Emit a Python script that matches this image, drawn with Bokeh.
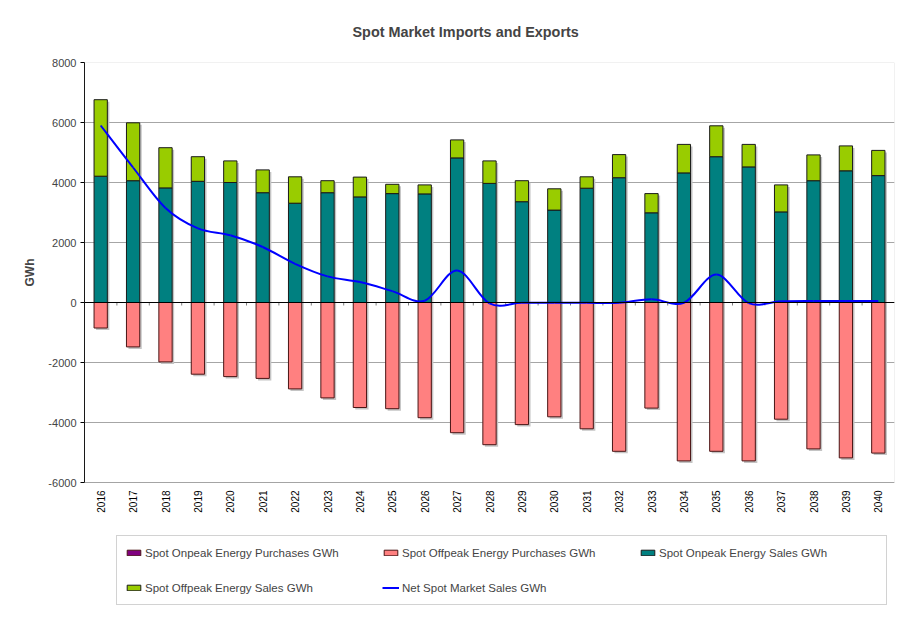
import math
from bokeh.plotting import figure
from bokeh.models import (ColumnDataSource, FixedTicker, Span, Legend, LegendItem, Range1d,
                          BoxAnnotation, Title)
from bokeh.embed import file_html
from bokeh.resources import INLINE
from bokeh.core.properties import value

years = [2016, 2017, 2018, 2019, 2020, 2021, 2022, 2023, 2024, 2025, 2026, 2027, 2028,
         2029, 2030, 2031, 2032, 2033, 2034, 2035, 2036, 2037, 2038, 2039, 2040]
year_labels = [str(y) for y in years]
onpeak_purchases = [0] * 25
offpeak_purchases = [-850, -1480, -1980, -2390, -2470, -2530, -2880, -3180, -3500, -3540, -3840, -4340, -4740,
                     -4070, -3810, -4210, -4960, -3520, -5280, -4960, -5280, -3890, -4880, -5180, -5020]
onpeak_sales = [4210, 4060, 3820, 4040, 4000, 3660, 3310, 3660, 3520, 3630, 3620, 4820, 3970,
                3360, 3080, 3810, 4160, 2990, 4320, 4860, 4520, 3020, 4060, 4390, 4230]
offpeak_sales = [2550, 1930, 1340, 820, 720, 760, 880, 400, 660, 310, 300, 600, 750,
                 700, 710, 380, 770, 640, 950, 1030, 750, 900, 860, 830, 840]
net_sales = [5900, 4500, 3150, 2470, 2240, 1850, 1290, 870, 680, 380, 60, 1070, -30,
             -10, -10, -10, -10, 110, -10, 930, -20, 40, 50, 50, 50]
y_ticks = [-6000, -4000, -2000, 0, 2000, 4000, 6000, 8000]
y_tick_labels = ["-6000", "-4000", "-2000", "0", "2000", "4000", "6000", "8000"]
Y_MIN, Y_MAX = -6000, 8000

FONT = "Liberation Sans"
C_ON_PUR = "#800080"
C_OFF_PUR = "#FF8080"
C_ON_SAL = "#008080"
C_OFF_SAL = "#99CC00"
C_NET = "#0000FF"
C_SHADOW = "#C4C4C4"

# layout (pixels)
FIG_W, FIG_H = 918, 620
FRAME_L, FRAME_R, FRAME_T = 84, 894, 62
PLOT_BOTTOM = 482          # bottom of the value area
FRAME_B = 612              # frame extended to hold the legend
px_per_unit = (PLOT_BOTTOM - FRAME_T) / (Y_MAX - Y_MIN)
y_lo = Y_MAX - (FRAME_B - FRAME_T) / px_per_unit
BAR_W = 0.41
shadow_dx = 2 / ((FRAME_R - FRAME_L) / len(years))   # 2 px in x units
shadow_dy = 2 / px_per_unit                           # 2 px in y units

src = ColumnDataSource(dict(x=years, onpeak_purchases=onpeak_purchases, offpeak_purchases=offpeak_purchases,
                            onpeak_sales=onpeak_sales, offpeak_sales=offpeak_sales))

p = figure(width=FIG_W, height=FIG_H, output_backend="svg", toolbar_location=None,
           x_range=Range1d(years[0] - 0.5, years[-1] + 0.5), y_range=Range1d(y_lo, Y_MAX),
           min_border_left=FRAME_L, min_border_right=FIG_W - FRAME_R,
           min_border_top=FRAME_T, min_border_bottom=FIG_H - FRAME_B)
p.background_fill_color = "white"
p.border_fill_color = "white"
p.outline_line_color = None

# grid
p.xgrid.grid_line_color = None
p.ygrid.grid_line_color = "#A6A6A6"
p.ygrid.ticker = FixedTicker(ticks=y_ticks)

# y axis
p.yaxis.ticker = FixedTicker(ticks=y_ticks)
p.yaxis.bounds = (Y_MIN, Y_MAX)
p.yaxis.major_label_overrides = dict(zip(y_ticks, y_tick_labels))
p.yaxis.axis_line_color = "black"
p.yaxis.major_tick_line_color = "black"
p.yaxis.major_tick_out = 4
p.yaxis.major_tick_in = 0
p.yaxis.minor_tick_line_color = None
p.yaxis.major_label_text_font = FONT
p.yaxis.major_label_text_font_size = "11px"
p.yaxis.major_label_standoff = 4

gwh = Title(text="GWh", align="left", offset=(FRAME_B - 286), standoff=18,
            text_font=FONT, text_font_size="12px", text_font_style="bold")
p.add_layout(gwh, "left")

p.xaxis.visible = False

# title
p.title.text = "Spot Market Imports and Exports"
p.title.align = "left"
p.title.offset = 268
p.title.vertical_align = "top"
p.title.text_font = FONT
p.title.text_font_size = "14.4px"
p.title.text_font_style = "bold"
p.title.standoff = 42

# plot-area border
p.add_layout(BoxAnnotation(left=years[0] - 0.5, right=years[-1] + 0.5, bottom=Y_MIN, top=Y_MAX,
                           fill_color=None, fill_alpha=0, line_color="#A0A0A0", line_width=1))

# bar shadows
totals_pos = [a + b for a, b in zip(onpeak_sales, offpeak_sales)]
totals_neg = [a + b for a, b in zip(onpeak_purchases, offpeak_purchases)]
p.vbar(x=[y + shadow_dx for y in years], width=BAR_W,
       top=[t - shadow_dy for t in totals_pos], bottom=[b - shadow_dy for b in totals_neg],
       fill_color=C_SHADOW, line_color=None)

pos = p.vbar_stack(["onpeak_sales", "offpeak_sales"], x="x", width=BAR_W, source=src,
                   fill_color=[C_ON_SAL, C_OFF_SAL], line_color="#1a1a1a", line_width=1)
neg = p.vbar_stack(["onpeak_purchases", "offpeak_purchases"], x="x", width=BAR_W, source=src,
                   fill_color=[C_ON_PUR, C_OFF_PUR], line_color="#4a1515", line_width=1)

# category labels below the plot area
p.text(x=years, y=[Y_MIN] * len(years), text=year_labels, angle=math.pi / 2,
       text_align="right", text_baseline="middle", y_offset=8,
       text_font=value(FONT), text_font_size="10px", text_color="black")

# zero line and small category ticks
p.segment(x0=[y - 0.5 for y in years[1:]], y0=[0] * 24, x1=[y - 0.5 for y in years[1:]], y1=[-100] * 24,
          line_color="#808080", line_width=1)
p.add_layout(Span(location=0, dimension="width", line_color="black", line_width=1.2))

# smoothed net line (Bezier segments through the data points)
n = len(years)
x0, y0, x1, y1, cx0, cy0, cx1, cy1 = [], [], [], [], [], [], [], []
for i in range(n - 1):
    a = max(i - 1, 0)
    d = min(i + 2, n - 1)
    x0.append(years[i]); y0.append(net_sales[i])
    x1.append(years[i + 1]); y1.append(net_sales[i + 1])
    cx0.append(years[i] + (years[i + 1] - years[a]) / 6)
    cy0.append(net_sales[i] + (net_sales[i + 1] - net_sales[a]) / 6)
    cx1.append(years[i + 1] - (years[d] - years[i]) / 6)
    cy1.append(net_sales[i + 1] - (net_sales[d] - net_sales[i]) / 6)
net_r = p.bezier(x0=x0, y0=y0, x1=x1, y1=y1, cx0=cx0, cy0=cy0, cx1=cx1, cy1=cy1,
                 line_color=C_NET, line_width=2)

legend = Legend(items=[
    LegendItem(label="Spot Onpeak Energy Purchases GWh", renderers=[neg[0]]),
    LegendItem(label="Spot Offpeak Energy Purchases GWh", renderers=[neg[1]]),
    LegendItem(label="Spot Onpeak Energy Sales GWh", renderers=[pos[0]]),
    LegendItem(label="Spot Offpeak Energy Sales GWh", renderers=[pos[1]]),
    LegendItem(label="Net Spot Market Sales GWh", renderers=[net_r]),
], orientation="horizontal", ncols=3, location=(32, 7))
legend.label_text_font = FONT
legend.label_text_font_size = "11.5px"
legend.label_height = 17
legend.label_width = 219
legend.label_standoff = 3
legend.glyph_width = 17
legend.glyph_height = 7
legend.spacing = 18
legend.padding = 8
legend.margin = 0
legend.border_line_color = "#A6A6A6"
legend.background_fill_color = "white"
p.add_layout(legend, "center")

open("out.html", "w").write(file_html(p, INLINE))
